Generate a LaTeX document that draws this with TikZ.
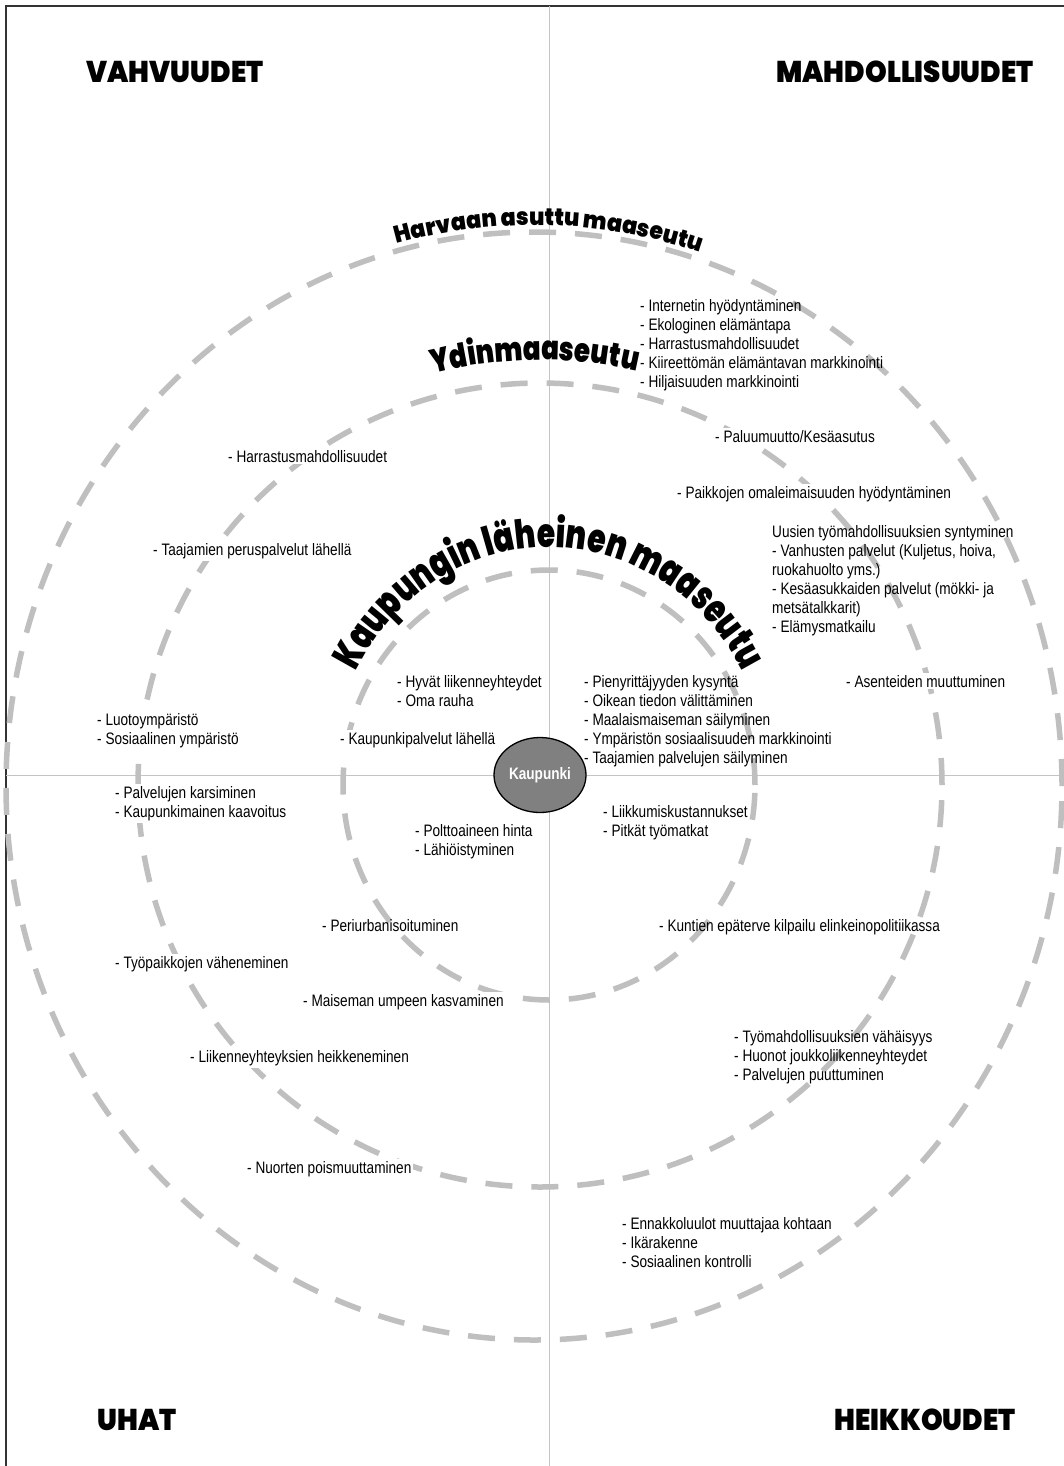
\documentclass[tikz,border=0pt]{standalone}
\usepackage{fontspec}
\setmainfont{Liberation Sans}
\newfontfamily\bodyfont{Liberation Sans}[FakeStretch=0.82]
\newfontfamily\headfont{Poppins Black}[FakeStretch=0.92]
\newfontfamily\ydinfont{Poppins Black}[FakeStretch=0.79]
\newfontfamily\kaupfont{Poppins Black}[FakeStretch=0.74]
\usetikzlibrary{shapes.geometric, decorations.text}
\definecolor{ringgray}{HTML}{BFBFBF}
\definecolor{axisgray}{HTML}{C4C4C4}
\definecolor{cityfill}{HTML}{808080}
\definecolor{framegray}{HTML}{333333}

\begin{document}
\begin{tikzpicture}[
    x=1pt, y=1pt,
    txt/.style={font=\bodyfont\fontsize{16.6}{19}\selectfont, align=left, inner sep=2pt, anchor=north west},
    wtxt/.style={txt, fill=white},
    head/.style={font=\headfont\fontsize{30}{30}\selectfont, inner sep=0pt},
    ring/.style={draw=ringgray, line width=5.5pt, dash pattern=on 27pt off 19pt},
    axisline/.style={draw=axisgray, line width=1pt},
    arctext/.style={decorate, decoration={text along path, text align=center, text={#1}}}
  ]
  \useasboundingbox (0,0) rectangle (1064,-1466);
  \fill[white] (0,0) rectangle (1064,-1466);

  % frame and axes
  \draw[framegray, line width=1.5pt] (6,-1466) |- (1064,-6);
  \draw[axisline] (549.5,-6) -- (549.5,-1466);
  \draw[axisline] (6,-775) -- (1064,-775);

  % zones
  \coordinate (cIn) at (549,-785);
  \coordinate (cMid) at (540,-785);
  \coordinate (cOut) at (534,-786);
  \draw[ring] (cIn) ellipse [x radius=206, y radius=215];
  \draw[ring] (cMid) circle [radius=402];
  \draw[ring] (cOut) ellipse [x radius=528, y radius=554];

  \path[arctext={|\headfont\fontsize{24}{24}\selectfont|Harvaan asuttu maaseutu}]
    ([shift={(123.4:536 and 561)}]cOut) arc[start angle=123.4, end angle=53.4, x radius=536, y radius=561];
  \path[arctext={|\ydinfont\fontsize{33}{33}\selectfont|Ydinmaaseutu}]
    ([shift={(125.7:425)}]cMid) arc[start angle=125.7, end angle=55.7, radius=425];
  \path[arctext={|\kaupfont\fontsize{40}{40}\selectfont|Kaupungin läheinen maaseutu}]
    ([shift={(178:220 and 238)}]cIn) arc[start angle=178, end angle=2, x radius=220, y radius=238];

  % quadrant titles
  \node[head] (vahv) at (175,-72) {VAHVUUDET};
  \node[head] (mahd) at (905,-72) {MAHDOLLISUUDET};
  \node[head] (uhat) at (137,-1420) {UHAT};
  \node[head] (heik) at (925,-1420) {HEIKKOUDET};

  % mahdollisuudet
  \node[txt] (mNet) at (638,-297)
    {- Internetin hyödyntäminen\\- Ekologinen elämäntapa\\- Harrastusmahdollisuudet\\- Kiireettömän elämäntavan markkinointi\\- Hiljaisuuden markkinointi};
  \node[wtxt] (mPaluu) at (713,-428) {- Paluumuutto/Kesäasutus};
  \node[wtxt] (mPaikka) at (675,-484) {- Paikkojen omaleimaisuuden hyödyntäminen};
  \node[txt] (mTyo) at (770,-523)
    {Uusien työmahdollisuuksien syntyminen\\- Vanhusten palvelut (Kuljetus, hoiva,\\ruokahuolto yms.)\\- Kesäasukkaiden palvelut (mökki- ja\\metsätalkkarit)\\- Elämysmatkailu};
  \node[wtxt] (mAsenne) at (844,-673) {- Asenteiden muuttuminen};
  \node[txt] (mPien) at (582,-673)
    {- Pienyrittäjyyden kysyntä\\- Oikean tiedon välittäminen\\- Maalaismaiseman säilyminen\\- Ympäristön sosiaalisuuden markkinointi\\- Taajamien palvelujen säilyminen};

  % vahvuudet
  \node[wtxt] (vHarr) at (226,-448) {- Harrastusmahdollisuudet};
  \node[wtxt] (vTaaj) at (151,-541) {- Taajamien peruspalvelut lähellä};
  \node[txt] (vHyva) at (395,-673) {- Hyvät liikenneyhteydet\\- Oma rauha};
  \node[wtxt] (vLuoto) at (95,-711) {- Luotoympäristö\\- Sosiaalinen ympäristö};
  \node[wtxt] (vKaup) at (338,-730) {- Kaupunkipalvelut lähellä};

  % uhat
  \node[wtxt] (uPalv) at (113,-784) {- Palvelujen karsiminen\\- Kaupunkimainen kaavoitus};
  \node[txt] (uPolt) at (413,-822) {- Polttoaineen hinta\\- Lähiöistyminen};
  \node[txt] (uPeri) at (320,-917) {- Periurbanisoituminen};
  \node[wtxt] (uTyo) at (113,-954) {- Työpaikkojen väheneminen};
  \node[wtxt] (uMais) at (301,-992) {- Maiseman umpeen kasvaminen};
  \node[wtxt] (uLiik) at (188,-1048) {- Liikenneyhteyksien heikkeneminen};
  \node[wtxt] (uNuor) at (245,-1159) {- Nuorten poismuuttaminen};

  % heikkoudet
  \node[txt] (hLiik) at (601,-803) {- Liikkumiskustannukset\\- Pitkät työmatkat};
  \node[txt] (hKunt) at (657,-917) {- Kuntien epäterve kilpailu elinkeinopolitiikassa};
  \node[txt] (hTyo) at (732,-1028)
    {- Työmahdollisuuksien vähäisyys\\- Huonot joukkoliikenneyhteydet\\- Palvelujen puuttuminen};
  \node[txt] (hEnna) at (620,-1215)
    {- Ennakkoluulot muuttajaa kohtaan\\- Ikärakenne\\- Sosiaalinen kontrolli};

  \node[ellipse, draw=black, line width=1.3pt, fill=cityfill, minimum width=92pt, minimum height=75pt,
    inner sep=0pt, text=white, font=\bodyfont\bfseries\fontsize{16.6}{19}\selectfont] (kaupunki) at (540,-775) {Kaupunki};
\end{tikzpicture}
\end{document}
